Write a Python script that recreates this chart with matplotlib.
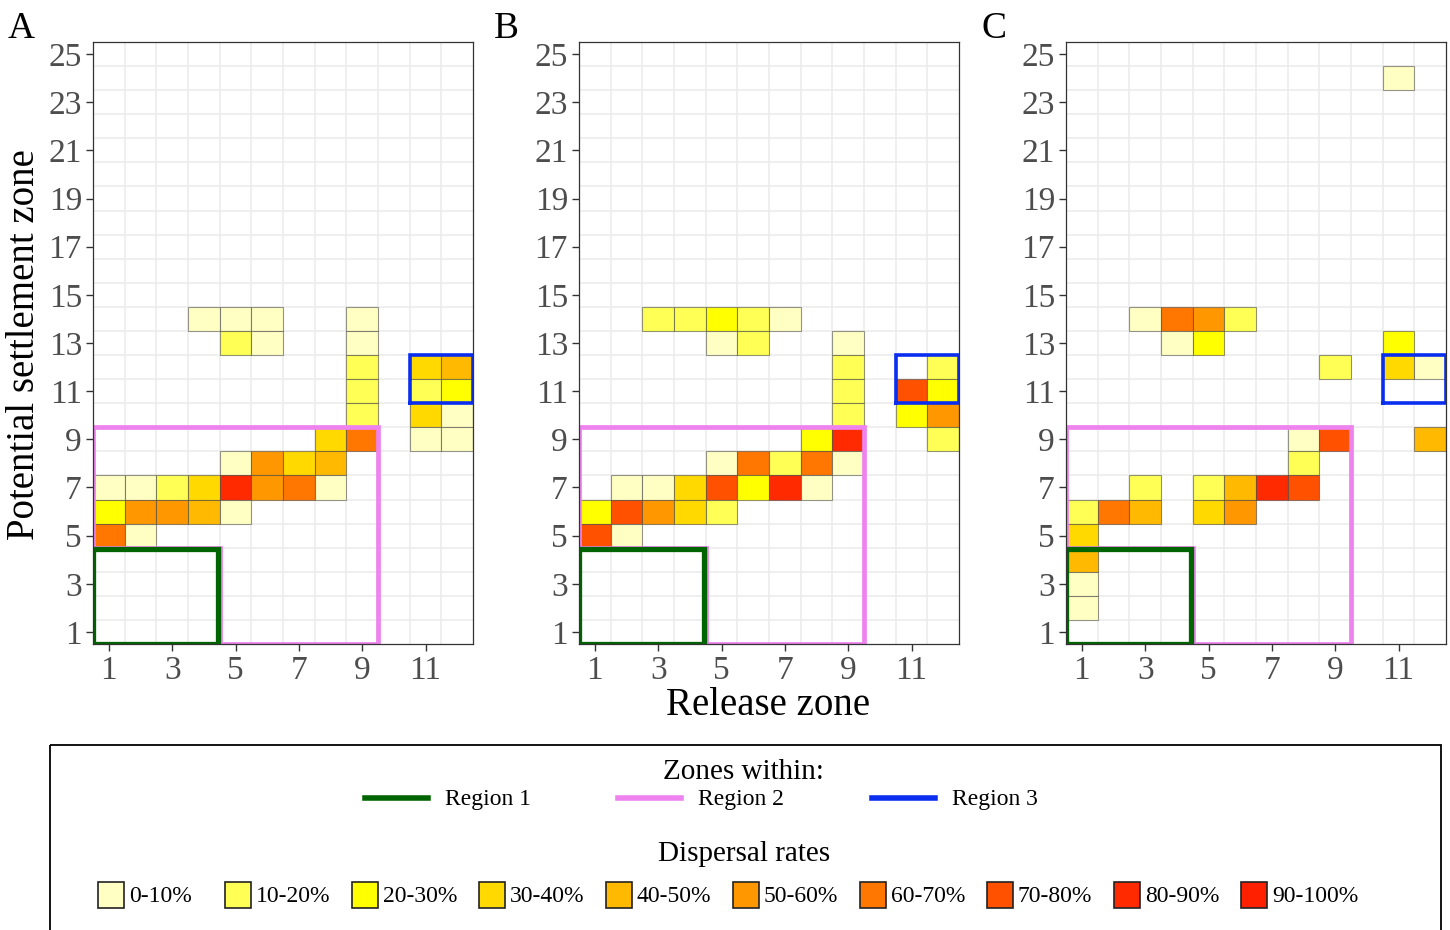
import numpy as np
import matplotlib
matplotlib.use("Agg")
import matplotlib.pyplot as plt
from matplotlib.patches import Rectangle
from matplotlib.lines import Line2D

plt.rcParams['font.family'] = ['Liberation Serif', 'DejaVu Serif']

# --------------------------
# dispersal rate classes
# --------------------------
rate_labels = ["0-10%", "10-20%", "20-30%", "30-40%", "40-50%",
               "50-60%", "60-70%", "70-80%", "80-90%", "90-100%"]
rate_colors = ["#FFFFC4", "#FFFF55", "#FFFF00", "#FFD900", "#FFB900",
               "#FF9800", "#FF7600", "#FF5100", "#FF2A00", "#FF2000"]

# --------------------------
# panel A: release zone, settlement zone, rate class index
# --------------------------
a_release = [4, 5, 6, 9, 5, 6, 9, 9, 11, 12, 9, 11, 12, 9, 11, 12,
             8, 9, 11, 12, 5, 6, 7, 8, 1, 2, 3, 4, 5, 6, 7, 8,
             1, 2, 3, 4, 5, 1, 2]
a_settle = [14, 14, 14, 14, 13, 13, 13, 12, 12, 12, 11, 11, 11, 10, 10, 10,
            9, 9, 9, 9, 8, 8, 8, 8, 7, 7, 7, 7, 7, 7, 7, 7,
            6, 6, 6, 6, 6, 5, 5]
a_rate = [0, 0, 0, 0, 1, 0, 0, 1, 3, 4, 1, 1, 2, 1, 3, 0,
          3, 6, 0, 0, 0, 5, 3, 4, 0, 0, 1, 3, 8, 5, 6, 0,
          2, 5, 5, 4, 0, 6, 0]

# panel B
b_release = [3, 4, 5, 6, 7, 5, 6, 9, 9, 12, 9, 11, 12, 9, 11, 12,
             8, 9, 12, 5, 6, 7, 8, 9, 2, 3, 4, 5, 6, 7, 8,
             1, 2, 3, 4, 5, 1, 2]
b_settle = [14, 14, 14, 14, 14, 13, 13, 13, 12, 12, 11, 11, 11, 10, 10, 10,
            9, 9, 9, 8, 8, 8, 8, 8, 7, 7, 7, 7, 7, 7, 7,
            6, 6, 6, 6, 6, 5, 5]
b_rate = [1, 1, 2, 1, 0, 0, 1, 0, 1, 1, 1, 7, 2, 1, 2, 5,
          2, 8, 1, 0, 6, 1, 6, 0, 0, 0, 3, 7, 2, 8, 0,
          2, 7, 5, 3, 1, 7, 0]

# panel C
c_release = [11, 3, 4, 5, 6, 4, 5, 11, 9, 11, 12, 8, 9, 12, 8,
             3, 5, 6, 7, 8, 1, 2, 3, 5, 6, 1, 1, 1, 1]
c_settle = [24, 14, 14, 14, 14, 13, 13, 13, 12, 12, 12, 9, 9, 9, 8,
            7, 7, 7, 7, 7, 6, 6, 6, 6, 6, 5, 4, 3, 2]
c_rate = [0, 0, 6, 5, 1, 0, 2, 2, 1, 3, 0, 0, 7, 4, 1,
          1, 1, 4, 8, 7, 1, 6, 4, 3, 5, 3, 4, 0, 0]

panels = [("A", a_release, a_settle, a_rate),
          ("B", b_release, b_settle, b_rate),
          ("C", c_release, c_settle, c_rate)]

# region outlines (zone boundaries)
region_names = ["Region 1", "Region 2", "Region 3"]
region_colors = ["#006400", "#EE82EE", "#0A2EF0"]
region_widths = [3.8, 3.4, 2.6]
region2_x = [0.5, 0.5, 9.5, 9.5, 4.5, 4.5, 0.5]
region2_y = [4.5, 9.5, 9.5, 0.5, 0.5, 4.5, 4.5]
region1_x = [0.5, 4.45, 4.45, 0.5, 0.5]
region1_y = [0.5, 0.5, 4.45, 4.45, 0.5]
region3_x = [10.5, 12.5, 12.5, 10.5, 10.5]
region3_y = [10.5, 10.5, 12.5, 12.5, 10.5]

W, H = 1450, 930
fig = plt.figure(figsize=(W / 100, H / 100), dpi=100)

ax_lefts = [93, 579, 1066]
ax_w, ax_top, ax_bot = 380, 42, 644

for i, (letter, rel, sett, rate) in enumerate(panels):
    ax = fig.add_axes([ax_lefts[i] / W, 1 - ax_bot / H, ax_w / W, (ax_bot - ax_top) / H])
    ax.set_xlim(0.5, 12.5)
    ax.set_ylim(0.5, 25.5)
    ax.set_xticks(np.arange(1, 12, 2))
    ax.set_yticks(np.arange(1, 26, 2))
    ax.set_xticks(np.arange(1.5, 12.5, 1), minor=True)
    ax.set_yticks(np.arange(1.5, 25.5, 1), minor=True)
    ax.grid(which='minor', color='#EBEBEB', lw=1.1)
    ax.tick_params(which='minor', length=0)
    ax.tick_params(which='major', length=5, width=1, color='#333333',
                   labelsize=24, labelcolor='#4D4D4D', pad=3)
    for s in ax.spines.values():
        s.set_color('#333333')
        s.set_linewidth(0.9)
        s.set_zorder(6)
    ax.set_axisbelow(True)

    ax.bar(rel, 1, bottom=np.array(sett) - 0.5, width=1,
           color=[rate_colors[r] for r in rate],
           edgecolor=(0.25, 0.25, 0.25, 0.55), linewidth=0.8, zorder=2)

    ax.plot(region2_x, region2_y, color=region_colors[1], lw=region_widths[1], zorder=3,
            solid_joinstyle='miter')
    ax.plot(region1_x, region1_y, color=region_colors[0], lw=region_widths[0], zorder=4,
            solid_joinstyle='miter')
    ax.plot(region3_x, region3_y, color=region_colors[2], lw=region_widths[2], zorder=4,
            solid_joinstyle='miter')

    fig.text((ax_lefts[i] - 85) / W, 1 - 38 / H, letter, fontsize=27, ha='left', va='baseline')

fig.text(25 / W, 1 - 345 / H, "Potential settlement zone", rotation=90,
         fontsize=28, ha='center', va='center')
fig.text(768 / W, 1 - 705 / H, "Release zone", fontsize=28, ha='center', va='center')

# --------------------------
# legend box (pixel coordinates overlay)
# --------------------------
lg = fig.add_axes([0, 0, 1, 1])
lg.set_xlim(0, W)
lg.set_ylim(H, 0)
lg.axis('off')
lg.patch.set_alpha(0)
lg.add_patch(Rectangle((50, 745), 1391, 200, fill=False, ec='black', lw=1.3, clip_on=False))

lg.text(743, 772, "Zones within:", fontsize=21, ha='center', va='center')
for j, name in enumerate(region_names):
    x0 = 365 + j * 253.5
    lg.plot([x0, x0 + 63], [798, 798], color=region_colors[j], lw=4)
    lg.text(x0 + 80, 799, name, fontsize=17, ha='left', va='center')

lg.text(744, 854, "Dispersal rates", fontsize=21, ha='center', va='center')
for k, lab in enumerate(rate_labels):
    x0 = 98 + k * 127
    lg.add_patch(Rectangle((x0, 882), 26, 26, fc=rate_colors[k], ec='#222222', lw=1.2))
    lg.text(x0 + 31, 896, lab, fontsize=17, ha='left', va='center')

fig.savefig("out.png", dpi=100)
